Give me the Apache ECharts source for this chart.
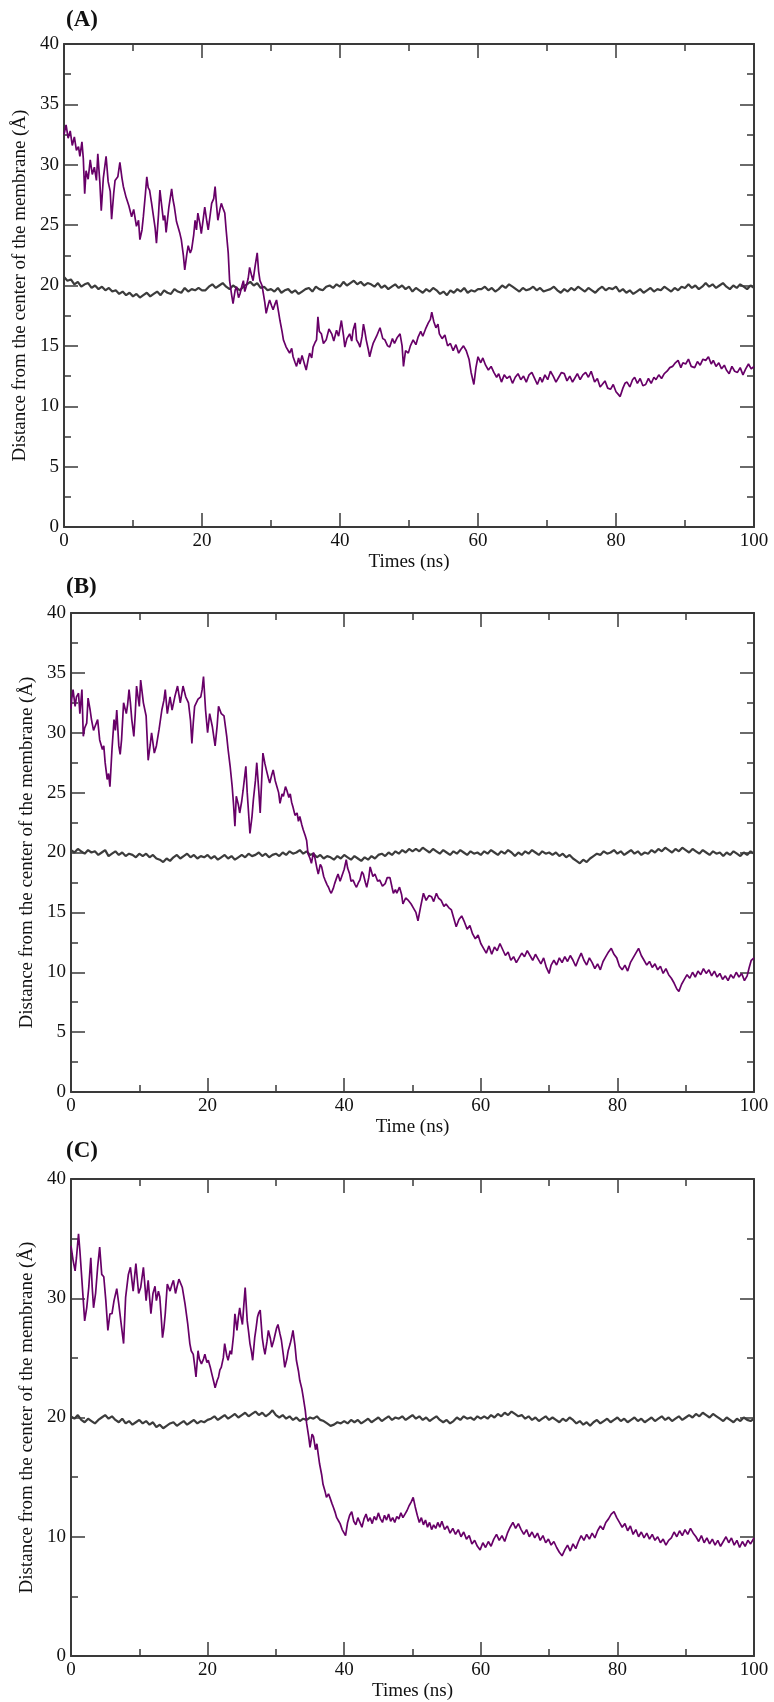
<!DOCTYPE html>
<html>
<head>
<meta charset="utf-8">
<script src="https://cdn.jsdelivr.net/npm/echarts@6/dist/echarts.min.js"></script>
<style>
html,body{margin:0;padding:0;background:#fff;}
#chart{width:774px;height:1702px;}
</style>
</head>
<body>
<div id="chart"></div>
<script>
// ---------- DATA ----------
const panelLabels = ['(A)', '(B)', '(C)'];
const xAxisNames = ['Times (ns)', 'Time (ns)', 'Times (ns)'];
const yAxisName = 'Distance from the center of the membrane (\u00C5)';
const xTicks = [0, 20, 40, 60, 80, 100];
const yTicksAB = [0, 5, 10, 15, 20, 25, 30, 35, 40];
const yTicksC = [0, 10, 20, 30, 40];

// purple trace, panel A: [time ns, distance Å]
const purpleA = [[0,32.5],[0.3,33.3],[0.6,32.2],[0.9,32.8],[1.2,31.6],[1.5,32.3],[1.8,31.2],[2.1,31.5],[2.3,30.7],[2.6,31.9],[2.8,30.5],[3.0,27.6],[3.2,29.5],[3.5,28.8],[3.8,30.4],[4.1,29.2],[4.4,29.8],[4.7,28.7],[4.9,30.9],[5.2,28.5],[5.4,26.2],[5.7,28.9],[6.1,30.7],[6.4,28.6],[6.7,27.8],[6.9,25.5],[7.2,27.6],[7.4,28.7],[7.8,29.0],[8.1,30.2],[8.4,28.9],[8.6,28.2],[9.0,27.3],[9.4,26.6],[9.8,25.7],[10.1,26.3],[10.5,24.9],[10.8,25.4],[11.0,23.8],[11.3,24.6],[11.5,25.7],[11.8,27.6],[12.0,29.0],[12.2,28.1],[12.4,27.9],[12.7,26.8],[12.9,26.0],[13.2,24.8],[13.4,23.5],[13.7,25.9],[13.9,27.9],[14.2,26.4],[14.4,25.4],[14.6,25.8],[14.8,24.4],[15.2,26.5],[15.6,28.0],[15.8,27.1],[16.0,26.5],[16.3,25.3],[16.5,24.9],[16.8,24.3],[17.0,23.8],[17.3,22.5],[17.5,21.3],[17.8,22.6],[18.0,23.3],[18.3,22.7],[18.5,23.0],[18.8,24.2],[19.0,25.4],[19.2,24.6],[19.4,26.0],[19.7,25.1],[19.9,24.3],[20.2,25.6],[20.4,26.5],[20.7,25.3],[20.9,24.6],[21.2,25.9],[21.4,26.8],[21.7,27.2],[21.9,28.2],[22.1,26.7],[22.3,25.4],[22.6,26.3],[22.8,26.8],[23.1,26.3],[23.3,26.0],[23.5,24.6],[23.8,22.7],[24.0,20.4],[24.3,19.2],[24.5,18.5],[24.8,19.6],[25.0,19.9],[25.3,19.0],[25.5,19.3],[25.8,20.0],[26.0,20.4],[26.2,19.5],[26.4,19.9],[26.7,20.6],[26.9,21.5],[27.2,20.8],[27.4,20.4],[27.7,21.6],[28.0,22.7],[28.2,21.2],[28.4,20.4],[28.7,20.0],[28.9,19.3],[29.1,18.6],[29.3,17.7],[29.6,18.4],[29.8,18.8],[30.1,18.3],[30.3,18.0],[30.6,18.5],[30.8,18.8],[31.1,17.8],[31.3,17.1],[31.6,16.2],[31.8,15.5],[32.0,15.2],[32.2,14.9],[32.5,14.6],[32.7,14.4],[33.0,14.8],[33.2,14.1],[33.5,13.6],[33.7,13.3],[34.0,14.0],[34.2,13.5],[34.5,14.2],[34.7,13.8],[34.9,13.4],[35.1,13.0],[35.4,13.9],[35.6,14.4],[35.9,14.0],[36.1,14.9],[36.4,15.3],[36.6,15.5],[36.8,17.4],[37.0,16.2],[37.3,16.0],[37.6,15.2],[38.0,15.5],[38.4,16.4],[38.8,16.0],[39.1,15.4],[39.5,16.3],[39.8,15.8],[40.2,17.1],[40.5,15.9],[40.7,14.9],[41.0,15.6],[41.4,16.0],[41.7,15.4],[41.9,16.3],[42.2,16.9],[42.4,15.5],[42.7,15.2],[42.9,14.9],[43.2,15.8],[43.4,16.8],[43.6,16.2],[43.8,15.5],[44.1,14.7],[44.3,14.1],[44.6,14.8],[44.8,15.2],[45.3,15.8],[45.8,16.5],[46.2,15.6],[46.5,15.5],[46.9,15.0],[47.2,14.9],[47.6,15.6],[47.9,15.2],[48.3,15.7],[48.7,16.0],[49.0,15.0],[49.2,13.3],[49.5,14.6],[49.9,14.4],[50.2,15.0],[50.6,15.5],[51.0,15.1],[51.3,15.7],[51.7,16.2],[52.0,15.8],[52.4,16.4],[52.8,16.9],[53.1,17.2],[53.3,17.8],[53.6,17.0],[53.9,16.5],[54.2,16.8],[54.4,16.0],[54.8,15.6],[55.2,15.9],[55.6,15.0],[56.0,15.2],[56.4,14.6],[56.8,15.1],[57.2,14.4],[57.5,14.7],[57.9,15.0],[58.3,14.6],[58.7,13.9],[59.0,12.8],[59.4,11.8],[59.7,13.2],[60.0,14.1],[60.4,13.6],[60.7,14.0],[61.1,13.4],[61.5,13.0],[61.9,13.3],[62.3,12.8],[62.7,12.4],[63.0,12.7],[63.4,12.0],[63.8,12.6],[64.2,12.3],[64.6,12.5],[65.0,11.9],[65.4,12.4],[65.8,12.7],[66.2,12.2],[66.6,12.5],[67.0,12.0],[67.4,12.6],[67.8,12.8],[68.2,12.3],[68.6,11.8],[69.0,12.4],[69.3,12.0],[69.7,12.6],[70.1,12.2],[70.5,12.9],[70.9,12.5],[71.3,12.0],[71.7,12.4],[72.1,12.8],[72.5,12.7],[72.9,12.1],[73.3,12.5],[73.7,12.0],[74.0,12.3],[74.4,12.7],[74.8,12.2],[75.2,12.6],[75.6,12.8],[76.0,12.4],[76.4,12.9],[76.9,12.0],[77.3,12.3],[77.7,11.6],[78.0,11.8],[78.4,12.1],[78.8,11.5],[79.2,11.4],[79.6,11.8],[80.0,11.2],[80.3,11.0],[80.6,10.8],[81.0,11.5],[81.3,11.9],[81.6,12.0],[82.0,11.6],[82.4,12.2],[82.7,12.4],[83.1,11.9],[83.5,12.3],[83.9,11.7],[84.3,11.8],[84.7,12.3],[85.1,11.9],[85.5,12.4],[85.8,12.2],[86.2,12.6],[86.6,12.3],[87.0,12.7],[87.4,12.9],[87.8,13.2],[88.2,13.3],[88.6,13.6],[89.0,13.8],[89.4,13.2],[89.7,13.6],[90.1,13.5],[90.5,13.9],[90.9,13.3],[91.4,13.2],[91.8,13.7],[92.2,13.4],[92.6,13.9],[93.0,13.8],[93.4,14.1],[93.8,13.5],[94.1,13.8],[94.5,13.3],[94.9,13.6],[95.3,13.1],[95.7,13.4],[96.0,13.0],[96.4,12.7],[96.8,13.3],[97.2,12.9],[97.6,12.8],[98.0,13.2],[98.4,12.6],[98.8,13.1],[99.2,13.5],[99.6,13.1],[100,13.3]];

// gray trace, panel A (every 0.5 ns from 0 to 100)
const grayA = [20.7,20.4,20.5,20.1,20.3,19.9,20.1,20.2,19.8,20.0,19.7,19.9,19.6,19.8,19.5,19.6,19.3,19.5,19.2,19.4,19.1,
19.3,19.0,19.2,19.4,19.1,19.3,19.5,19.2,19.6,19.4,19.3,19.7,19.5,19.4,19.8,19.5,19.7,19.6,19.8,19.6,
19.6,19.9,20.1,19.8,20.0,20.2,19.9,19.7,20.0,19.8,19.6,19.9,20.1,20.3,20.0,20.2,19.8,19.9,19.6,19.7,
19.5,19.8,19.4,19.6,19.7,19.4,19.6,19.3,19.5,19.7,19.8,19.5,19.9,19.7,19.6,19.9,20.0,19.8,20.1,19.9,
20.3,20.0,20.2,20.4,20.1,20.3,20.0,20.2,20.1,19.9,20.2,19.8,20.0,19.7,19.9,20.1,19.8,20.0,19.7,19.9,
19.5,19.8,19.6,19.4,19.7,19.5,19.8,19.6,19.3,19.5,19.2,19.6,19.4,19.7,19.5,19.8,19.4,19.6,19.5,19.7,
19.7,19.9,19.6,19.8,19.5,19.7,20.0,19.8,20.1,19.9,19.7,19.5,19.8,19.6,19.7,19.9,19.6,19.8,19.5,19.6,
19.7,19.9,19.6,19.4,19.7,19.5,19.8,19.6,19.9,19.7,19.5,19.8,19.6,19.4,19.7,19.9,19.6,19.8,19.7,19.9,
19.5,19.7,19.4,19.6,19.3,19.5,19.7,19.4,19.6,19.8,19.5,19.7,19.6,19.9,19.7,19.5,19.8,19.6,19.9,19.8,
20.1,19.8,20.0,19.7,19.9,20.2,19.9,20.1,19.8,20.0,20.2,19.9,19.7,20.0,19.8,20.1,19.9,19.7,20.0,19.8];

// purple trace, panel B
const purpleB = [[0,32.0],[0.1,32.8],[0.3,33.6],[0.6,32.2],[0.8,33.0],[1.1,33.3],[1.3,31.6],[1.6,33.6],[1.8,29.7],[2.0,30.4],[2.3,30.8],[2.5,32.9],[2.8,31.9],[3.0,31.1],[3.3,30.2],[3.5,30.5],[3.9,31.1],[4.2,29.4],[4.6,28.6],[4.8,28.9],[5.0,27.5],[5.3,26.1],[5.5,26.6],[5.7,25.5],[6.0,28.6],[6.3,31.1],[6.5,30.2],[6.7,31.9],[7.0,28.9],[7.2,28.2],[7.4,29.4],[7.7,32.5],[8.1,31.6],[8.3,32.4],[8.5,33.6],[8.7,32.5],[8.9,31.1],[9.2,29.7],[9.4,31.5],[9.6,33.9],[10.0,32.2],[10.2,34.4],[10.6,32.5],[11.0,31.4],[11.3,27.7],[11.6,29.0],[11.8,30.0],[12.2,28.3],[12.5,28.9],[12.9,30.3],[13.3,31.9],[13.6,32.7],[13.8,33.6],[14.1,31.6],[14.5,33.0],[14.8,31.9],[15.2,33.0],[15.6,33.9],[16.0,32.5],[16.4,33.9],[16.8,33.0],[17.2,32.5],[17.5,31.0],[17.7,29.1],[17.9,30.8],[18.1,32.2],[18.6,32.8],[19.0,33.0],[19.2,33.6],[19.4,34.7],[19.7,31.9],[20.0,30.0],[20.3,31.6],[20.7,30.5],[21.1,28.9],[21.4,30.6],[21.6,32.2],[22.0,31.6],[22.4,31.4],[22.8,29.7],[23.0,28.6],[23.3,27.2],[23.6,25.5],[23.8,24.0],[24.0,22.2],[24.2,24.7],[24.5,24.0],[24.7,23.3],[25.0,24.3],[25.2,25.2],[25.6,27.2],[25.8,25.0],[26.0,23.3],[26.2,21.6],[26.5,23.0],[26.7,24.4],[27.0,26.0],[27.2,27.5],[27.5,25.1],[27.7,23.3],[27.9,25.8],[28.1,28.3],[28.4,27.4],[28.6,26.9],[28.9,26.2],[29.1,25.8],[29.4,26.5],[29.6,26.9],[29.9,26.0],[30.1,26.1],[30.4,25.0],[30.6,24.1],[30.9,24.9],[31.1,24.7],[31.4,25.5],[31.6,25.2],[31.9,24.6],[32.1,24.9],[32.3,24.2],[32.5,23.8],[32.8,23.1],[33.1,23.3],[33.3,22.6],[33.5,23.0],[33.8,22.3],[34.0,21.9],[34.3,21.4],[34.5,21.0],[34.7,19.9],[35.0,19.5],[35.2,19.1],[35.5,20.0],[35.7,19.6],[36.0,18.7],[36.2,18.2],[36.5,19.0],[36.7,18.8],[37.0,18.0],[37.2,17.7],[37.5,17.3],[37.7,17.1],[37.9,16.8],[38.1,16.6],[38.4,17.0],[38.6,17.4],[38.9,17.9],[39.1,18.2],[39.4,17.6],[39.6,17.7],[40.0,18.6],[40.3,19.4],[40.5,18.7],[40.8,18.2],[41.0,17.6],[41.3,17.7],[41.6,17.3],[41.8,17.1],[42.1,17.5],[42.3,17.7],[42.6,18.4],[42.8,18.2],[43.1,17.5],[43.3,17.1],[43.6,17.9],[43.8,18.8],[44.2,18.0],[44.5,18.2],[44.9,17.6],[45.2,17.7],[45.6,17.2],[46.0,17.4],[46.3,17.9],[46.7,17.9],[47.0,17.1],[47.2,16.6],[47.5,16.9],[47.7,16.6],[48.1,17.1],[48.4,16.5],[48.6,15.7],[49.0,16.2],[49.4,16.0],[49.8,15.7],[50.1,15.4],[50.5,15.0],[50.8,14.3],[51.2,15.5],[51.6,16.6],[52.0,16.0],[52.4,16.4],[52.8,16.3],[53.1,15.9],[53.5,16.6],[53.8,16.2],[54.2,16.0],[54.6,15.5],[54.9,15.7],[55.3,15.4],[55.7,15.2],[56.0,14.6],[56.4,13.8],[56.8,14.4],[57.2,14.7],[57.6,14.2],[58.0,13.6],[58.4,13.9],[58.8,13.2],[59.2,12.8],[59.6,13.1],[60.0,12.4],[60.4,12.0],[60.8,11.6],[61.2,12.2],[61.6,11.5],[62.0,12.1],[62.4,11.8],[62.8,12.4],[63.2,11.9],[63.6,11.4],[64.0,11.7],[64.4,11.0],[64.8,11.3],[65.2,10.8],[65.6,11.2],[66.0,11.6],[66.4,11.3],[66.8,11.8],[67.2,11.4],[67.6,11.0],[68.0,11.5],[68.4,11.1],[68.8,10.7],[69.2,11.2],[69.6,10.4],[70.0,9.9],[70.3,10.6],[70.7,11.0],[71.1,10.6],[71.5,11.2],[71.9,10.8],[72.3,11.3],[72.7,10.9],[73.1,11.4],[73.5,11.0],[73.9,10.5],[74.3,11.1],[74.7,11.6],[75.1,11.0],[75.5,10.6],[75.9,11.2],[76.3,10.8],[76.7,10.3],[77.1,10.7],[77.5,10.2],[77.9,10.9],[78.3,11.3],[78.7,11.7],[79.1,12.0],[79.5,11.5],[79.9,11.2],[80.3,10.5],[80.7,10.2],[81.1,10.6],[81.5,10.1],[81.9,10.8],[82.3,11.2],[82.7,11.6],[83.1,12.0],[83.5,11.4],[83.9,11.0],[84.3,10.6],[84.7,10.9],[85.1,10.4],[85.5,10.7],[85.9,10.2],[86.3,10.5],[86.7,9.9],[87.1,10.3],[87.5,9.8],[87.9,9.5],[88.3,9.1],[88.7,8.6],[89.0,8.4],[89.4,9.0],[89.8,9.4],[90.2,9.8],[90.6,9.5],[91.0,10.0],[91.4,9.6],[91.8,10.1],[92.2,9.8],[92.6,10.3],[93.0,9.9],[93.4,10.2],[93.8,9.7],[94.2,10.1],[94.6,9.6],[95.0,9.9],[95.4,9.4],[95.8,9.7],[96.2,9.3],[96.6,9.8],[97.0,9.5],[97.4,10.0],[97.8,9.6],[98.2,9.9],[98.6,9.3],[99.0,9.7],[99.3,10.4],[99.6,11.0],[100,11.2]];

// gray trace, panel B (every 0.5 ns)
const grayB = [20.2,20.0,20.3,20.1,19.9,20.2,20.0,20.1,19.8,20.0,20.2,19.7,19.9,20.1,19.8,20.0,19.7,19.9,19.8,19.6,19.9,
19.7,19.9,19.6,19.8,19.5,19.4,19.2,19.5,19.3,19.6,19.8,19.5,19.7,19.9,19.6,19.8,19.5,19.7,19.6,19.8,
19.5,19.7,19.4,19.6,19.8,19.5,19.7,19.4,19.6,19.8,19.6,19.9,19.7,19.8,20.0,19.7,19.9,19.6,19.8,19.9,
19.7,20.0,19.8,20.1,19.9,20.0,20.2,19.9,20.1,19.8,19.9,19.6,19.8,19.5,19.7,19.6,19.4,19.7,19.5,19.8,
19.6,19.4,19.7,19.5,19.3,19.6,19.4,19.7,19.5,19.8,19.9,19.7,20.0,19.8,20.1,19.9,20.2,20.0,20.3,20.1,
20.3,20.1,20.4,20.2,20.0,20.3,20.1,19.9,20.2,20.0,19.8,20.1,19.9,20.2,20.0,19.8,20.1,19.9,20.0,19.8,
20.1,19.9,20.2,20.0,19.8,20.1,19.9,20.2,20.0,19.7,20.0,19.8,20.1,19.9,20.2,20.0,19.8,20.1,19.9,20.0,
19.8,20.0,19.7,19.9,19.6,19.8,19.5,19.3,19.1,19.4,19.2,19.5,19.7,19.9,19.8,20.1,19.9,20.0,20.2,19.9,
20.1,19.8,20.0,20.2,19.9,20.1,19.8,20.0,19.9,20.2,20.0,20.3,20.1,20.4,20.2,20.0,20.3,20.1,20.4,20.2,
20.0,20.3,20.1,19.9,20.2,20.0,19.8,20.1,19.9,20.0,19.7,20.0,19.8,20.1,19.9,19.7,20.0,19.8,20.1,19.9];

// purple trace, panel C
const purpleC = [[0,34.4],[0.1,34.0],[0.3,33.2],[0.6,32.3],[0.8,33.4],[1.1,35.4],[1.3,34.0],[1.6,31.5],[1.8,29.8],[2.0,28.1],[2.3,29.2],[2.6,30.9],[2.9,33.4],[3.1,31.0],[3.3,29.2],[3.6,30.4],[3.9,32.6],[4.2,34.3],[4.5,32.0],[4.8,31.8],[5.1,29.8],[5.4,27.3],[5.7,28.7],[6.0,28.7],[6.3,29.8],[6.7,30.8],[7.0,29.5],[7.4,27.6],[7.7,26.2],[8.0,30.1],[8.4,32.0],[8.7,32.6],[9.1,30.6],[9.5,32.9],[9.9,30.4],[10.2,30.9],[10.6,32.6],[11.0,29.8],[11.3,31.5],[11.7,28.7],[12.0,30.4],[12.3,31.0],[12.5,29.8],[12.8,30.6],[13.0,30.1],[13.2,28.5],[13.4,26.7],[13.6,27.5],[13.8,28.7],[14.1,31.2],[14.5,30.6],[14.8,31.2],[15.0,31.5],[15.3,30.4],[15.5,30.9],[15.8,31.6],[16.0,31.5],[16.3,30.9],[16.7,29.5],[17.1,27.8],[17.4,26.2],[17.6,25.6],[17.9,25.3],[18.1,24.4],[18.3,23.4],[18.6,25.6],[18.8,24.9],[19.1,24.5],[19.4,24.9],[19.6,25.3],[19.9,24.6],[20.1,24.8],[20.4,24.2],[20.6,23.7],[20.9,23.0],[21.1,22.5],[21.4,23.1],[21.6,23.4],[21.8,24.0],[22.0,24.2],[22.3,25.0],[22.5,26.2],[22.8,25.2],[23.0,24.8],[23.3,25.6],[23.5,25.3],[23.8,26.9],[24.0,28.7],[24.3,27.3],[24.5,28.4],[24.7,29.2],[24.9,28.4],[25.1,27.8],[25.3,29.4],[25.5,30.9],[25.8,28.1],[26.0,27.2],[26.2,26.2],[26.4,25.6],[26.6,24.8],[26.9,26.7],[27.1,27.5],[27.3,28.4],[27.5,28.8],[27.7,29.0],[28.0,26.7],[28.2,25.9],[28.4,25.3],[28.7,26.4],[28.9,27.3],[29.2,26.6],[29.4,25.9],[29.7,26.5],[29.9,27.0],[30.1,27.5],[30.3,27.8],[30.6,27.0],[30.8,26.5],[31.1,25.2],[31.3,24.2],[31.6,24.9],[31.8,25.6],[32.1,26.2],[32.3,26.7],[32.5,27.3],[32.8,26.0],[33.0,24.8],[33.3,23.9],[33.5,23.1],[33.8,22.4],[34.0,21.7],[34.3,20.6],[34.5,19.5],[34.8,18.4],[35.0,17.5],[35.3,18.6],[35.5,18.4],[35.8,17.3],[36.0,17.8],[36.2,16.9],[36.4,16.1],[36.7,15.2],[36.9,14.4],[37.2,13.8],[37.4,13.3],[37.7,13.6],[37.9,13.3],[38.2,12.8],[38.4,12.5],[38.7,12.0],[38.9,11.6],[39.2,11.3],[39.4,11.1],[39.7,10.6],[39.9,10.5],[40.2,10.1],[40.5,11.2],[40.8,11.8],[41.1,12.1],[41.4,11.3],[41.7,11.0],[42.0,11.6],[42.3,11.2],[42.6,10.8],[42.9,11.5],[43.2,11.9],[43.5,11.3],[43.8,11.6],[44.1,11.1],[44.4,11.7],[44.7,11.4],[45.0,12.0],[45.3,11.5],[45.6,11.2],[45.9,11.8],[46.2,11.4],[46.5,11.9],[46.8,11.3],[47.1,11.6],[47.4,11.2],[47.7,11.7],[48.0,11.5],[48.3,12.0],[48.6,11.6],[48.9,11.9],[49.2,12.2],[49.5,12.6],[49.8,12.9],[50.1,13.3],[50.4,12.5],[50.7,11.8],[51.0,11.2],[51.3,11.6],[51.6,11.0],[51.9,11.4],[52.2,10.8],[52.5,11.2],[52.8,10.6],[53.1,11.0],[53.4,10.7],[53.7,11.2],[54.0,10.8],[54.3,11.3],[54.7,10.6],[55.1,10.9],[55.5,10.3],[55.9,10.7],[56.3,10.2],[56.7,10.6],[57.1,10.0],[57.5,10.4],[57.9,9.8],[58.3,10.1],[58.7,9.4],[59.1,9.7],[59.5,9.2],[59.9,8.9],[60.3,9.5],[60.7,9.1],[61.1,9.6],[61.5,9.2],[61.9,9.8],[62.3,10.2],[62.7,9.7],[63.1,10.1],[63.5,9.6],[63.9,10.3],[64.3,10.8],[64.7,11.2],[65.1,10.7],[65.5,11.1],[65.9,10.6],[66.3,10.2],[66.7,10.6],[67.1,10.0],[67.5,10.4],[67.9,9.9],[68.3,10.3],[68.7,9.7],[69.1,10.1],[69.5,9.5],[69.9,9.8],[70.3,9.3],[70.7,9.6],[71.1,9.1],[71.5,8.7],[71.9,8.4],[72.3,8.9],[72.7,9.3],[73.1,8.8],[73.5,9.4],[73.9,9.0],[74.3,9.6],[74.7,10.1],[75.1,9.7],[75.5,10.2],[75.9,9.8],[76.3,10.3],[76.7,9.9],[77.1,10.5],[77.5,10.9],[77.9,10.6],[78.3,11.2],[78.7,11.5],[79.1,11.9],[79.5,12.1],[79.9,11.6],[80.3,11.2],[80.7,10.8],[81.1,11.1],[81.5,10.5],[81.9,10.9],[82.3,10.2],[82.7,10.6],[83.1,10.0],[83.5,10.4],[83.9,9.9],[84.3,10.3],[84.7,9.8],[85.1,10.2],[85.5,9.7],[85.9,10.0],[86.3,9.5],[86.7,9.8],[87.1,9.3],[87.5,9.7],[87.9,9.9],[88.3,10.4],[88.7,10.0],[89.1,10.5],[89.5,10.1],[89.9,10.6],[90.3,10.2],[90.7,10.7],[91.1,10.3],[91.5,10.0],[91.9,9.6],[92.3,10.1],[92.7,9.5],[93.1,9.9],[93.5,9.4],[93.9,9.8],[94.3,9.3],[94.7,9.7],[95.1,9.2],[95.5,9.6],[95.9,10.0],[96.3,9.5],[96.7,9.9],[97.1,9.3],[97.5,9.7],[97.9,9.1],[98.3,9.6],[98.7,9.2],[99.1,9.7],[99.5,9.4],[100,9.9]];

// gray trace, panel C (every 0.5 ns)
const grayC = [20.1,19.9,20.2,19.8,19.6,19.9,19.7,19.5,19.8,20.0,20.2,19.9,20.1,19.8,19.6,19.9,19.5,19.7,19.4,19.6,19.8,
19.5,19.7,19.4,19.6,19.2,19.4,19.1,19.3,19.5,19.6,19.3,19.5,19.7,19.4,19.6,19.8,19.5,19.7,19.6,19.8,
19.9,20.1,19.8,20.0,20.2,19.9,20.1,20.3,20.0,20.2,20.4,20.1,20.3,20.5,20.2,20.4,20.1,20.3,20.6,20.2,
20.0,20.2,19.9,20.1,19.8,20.0,19.7,19.9,19.8,20.0,19.9,20.1,19.8,19.7,19.5,19.3,19.4,19.6,19.5,19.7,
19.5,19.8,19.6,19.8,19.5,19.7,19.9,19.6,19.8,20.0,19.7,19.9,20.1,19.8,20.0,19.9,20.1,19.8,20.0,20.2,
19.9,20.1,19.8,20.0,19.7,19.9,20.1,19.8,19.6,19.8,19.5,19.7,20.0,19.8,20.1,19.9,20.0,19.8,20.1,19.9,
20.1,19.9,20.2,20.0,20.3,20.1,20.4,20.2,20.5,20.3,20.1,20.2,19.9,20.1,19.8,20.0,19.7,19.9,20.1,19.8,
20.0,19.8,19.6,19.9,19.7,20.0,19.8,19.5,19.7,19.4,19.6,19.3,19.6,19.8,19.5,19.7,19.9,19.6,19.8,20.0,
19.7,19.9,19.6,19.8,20.0,19.7,19.9,19.6,19.8,20.0,19.7,19.9,20.1,19.8,20.0,19.7,19.9,20.1,19.8,20.0,
20.2,20.0,20.3,20.1,20.4,20.2,20.0,20.3,20.1,19.9,19.7,20.0,19.8,19.6,19.9,19.7,20.0,19.8,19.7,19.9];

// ---------- CHART ----------
const FONT = 'Liberation Serif';
const AXIS_COLOR = '#3a3a3a';
const PURPLE = '#680068';
const GRAY = '#3c3c3c';

const grids = [
  {left: 64, top: 44, width: 690, height: 483},
  {left: 71, top: 613, width: 683, height: 479},
  {left: 71, top: 1179, width: 683, height: 477}
];
const yIntervals = [yTicksAB[1] - yTicksAB[0], yTicksAB[1] - yTicksAB[0], yTicksC[1] - yTicksC[0]];
const yMax = [yTicksAB[yTicksAB.length - 1], yTicksAB[yTicksAB.length - 1], yTicksC[yTicksC.length - 1]];

function tickCommon() {
  return {
    axisLine: {show: true, onZero: false, lineStyle: {color: AXIS_COLOR, width: 2}},
    axisTick: {show: true, inside: true, length: 14, lineStyle: {color: AXIS_COLOR, width: 1.5}},
    minorTick: {show: true, splitNumber: 2, length: 7, lineStyle: {color: AXIS_COLOR, width: 1.5}},
    splitLine: {show: false},
    minorSplitLine: {show: false}
  };
}

const xAxes = [], yAxes = [], series = [], titles = [];
for (let g = 0; g < 3; g++) {
  xAxes.push(Object.assign({
    type: 'value', gridIndex: g, position: 'bottom', min: xTicks[0], max: xTicks[xTicks.length - 1],
    interval: xTicks[1] - xTicks[0],
    name: xAxisNames[g], nameLocation: 'middle', nameGap: 26,
    nameTextStyle: {fontFamily: FONT, fontSize: 19, color: '#111'},
    axisLabel: {show: true, margin: 5, fontFamily: FONT, fontSize: 19, color: '#111'}
  }, tickCommon()));
  xAxes.push(Object.assign({
    type: 'value', gridIndex: g, position: 'top', min: xTicks[0], max: xTicks[xTicks.length - 1],
    interval: xTicks[1] - xTicks[0], axisLabel: {show: false}
  }, tickCommon()));
  yAxes.push(Object.assign({
    type: 'value', gridIndex: g, position: 'left', min: 0, max: yMax[g], interval: yIntervals[g],
    name: yAxisName, nameLocation: 'middle', nameGap: 33, nameRotate: 90,
    nameTextStyle: {fontFamily: FONT, fontSize: 19, color: '#111'},
    axisLabel: {show: true, margin: 5, fontFamily: FONT, fontSize: 19, color: '#111'}
  }, tickCommon()));
  yAxes.push(Object.assign({
    type: 'value', gridIndex: g, position: 'right', min: 0, max: yMax[g], interval: yIntervals[g],
    axisLabel: {show: false}
  }, tickCommon()));
}

const grays = [grayA, grayB, grayC];
const purples = [purpleA, purpleB, purpleC];
for (let g = 0; g < 3; g++) {
  const gr = grays[g];
  const gdata = gr.map((v, i) => [100 * i / (gr.length - 1), v]);
  series.push({
    type: 'line', xAxisIndex: 2 * g, yAxisIndex: 2 * g, data: gdata,
    showSymbol: false, symbol: 'none', silent: true,
    lineStyle: {color: GRAY, width: 2.2}
  });
  series.push({
    type: 'line', xAxisIndex: 2 * g, yAxisIndex: 2 * g, data: purples[g],
    showSymbol: false, symbol: 'none', silent: true,
    lineStyle: {color: PURPLE, width: 1.7}
  });
}

const labelTops = [9, 576, 1140];
const labelLefts = [66, 66, 66];
for (let g = 0; g < 3; g++) {
  titles.push({
    text: panelLabels[g], left: labelLefts[g], top: labelTops[g], padding: 0,
    textStyle: {fontFamily: FONT, fontWeight: 'bold', fontSize: 23, color: '#111'}
  });
}

const chart = echarts.init(document.getElementById('chart'), null, {renderer: 'canvas'});
chart.setOption({
  backgroundColor: '#ffffff',
  animation: false,
  title: titles,
  grid: grids,
  xAxis: xAxes,
  yAxis: yAxes,
  series: series
});
</script>
</body>
</html>
